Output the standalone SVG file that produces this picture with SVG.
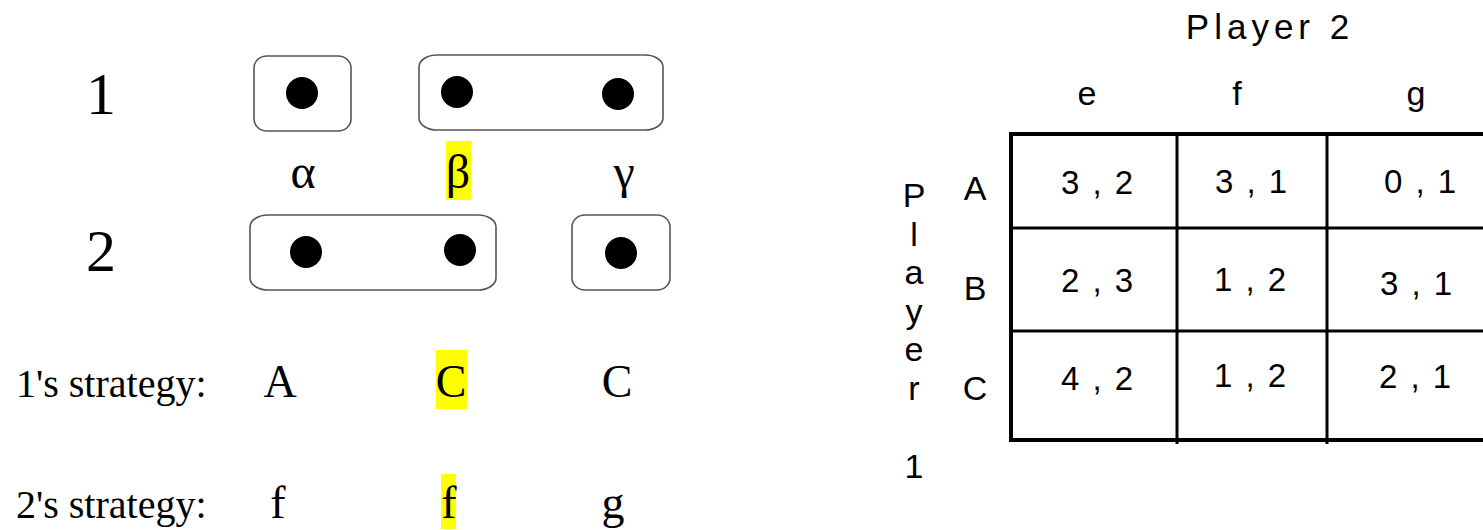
<svg xmlns="http://www.w3.org/2000/svg" width="1483" height="530" viewBox="0 0 1483 530">
<style>
.serif{font-family:"Liberation Serif","Times New Roman",serif;fill:#000}
.sans{font-family:"Liberation Sans",Arial,sans-serif;fill:#000}
.box{fill:none;stroke:#555;stroke-width:1.6}
.dot{fill:#000}
.hl{fill:#ffff00}
.thick{stroke:#000;stroke-width:4;fill:none}
.thin{stroke:#000;stroke-width:3;fill:none}
.cell{font-size:33px;letter-spacing:2px;text-anchor:middle}
.lab{font-size:34px;text-anchor:middle}
</style>
<rect width="1483" height="530" fill="#fff"/>
<g id="player-labels">
<text class="serif" x="86" y="114" font-size="60">1</text>
<text class="serif" x="86" y="271" font-size="60">2</text>
</g>
<g id="info-set-1a">
<rect class="box" x="254" y="56" width="97" height="75" rx="13" ry="12"/>
<circle class="dot" cx="302" cy="93" r="16"/>
</g>
<g id="info-set-1b">
<rect class="box" x="419" y="55" width="244" height="75" rx="18" ry="12"/>
<circle class="dot" cx="457" cy="92" r="16"/>
<circle class="dot" cx="618" cy="94" r="16"/>
</g>
<g id="info-set-2a">
<rect class="box" x="250" y="215" width="246" height="75" rx="18" ry="12"/>
<circle class="dot" cx="306" cy="252" r="16"/>
<circle class="dot" cx="460" cy="250" r="16"/>
</g>
<g id="info-set-2b">
<rect class="box" x="572" y="215" width="98" height="75" rx="13" ry="12"/>
<circle class="dot" cx="621" cy="253" r="16"/>
</g>
<g id="states">
<rect class="hl" x="446" y="141" width="25" height="59"/>
<text class="serif" x="303" y="188" font-size="48" text-anchor="middle">α</text>
<text class="serif" x="458" y="188" font-size="48" text-anchor="middle">β</text>
<text class="serif" x="624" y="188" font-size="48" text-anchor="middle">γ</text>
</g>
<g id="strategies">
<rect class="hl" x="436" y="350" width="31" height="59"/>
<rect class="hl" x="441" y="474" width="15" height="55"/>
<text class="serif" x="16" y="397" font-size="40">1's strategy:</text>
<text class="serif" x="280" y="397" font-size="46" text-anchor="middle">A</text>
<text class="serif" x="451" y="397" font-size="46" text-anchor="middle">C</text>
<text class="serif" x="617" y="397" font-size="46" text-anchor="middle">C</text>
<text class="serif" x="16" y="518" font-size="40">2's strategy:</text>
<text class="serif" x="278" y="518" font-size="46" text-anchor="middle">f</text>
<text class="serif" x="449" y="518" font-size="46" text-anchor="middle">f</text>
<text class="serif" x="613" y="518" font-size="46" text-anchor="middle">g</text>
</g>
<g id="payoff-matrix">
<text class="sans" x="1270" y="39" font-size="35" letter-spacing="5" text-anchor="middle">Player 2</text>
<g class="sans lab">
<text x="1087" y="105">e</text>
<text x="1237" y="105">f</text>
<text x="1416" y="105">g</text>
<text x="914" y="207">P</text>
<text x="914" y="246">l</text>
<text x="914" y="284">a</text>
<text x="914" y="323">y</text>
<text x="914" y="361">e</text>
<text x="914" y="400">r</text>
<text x="914" y="478">1</text>
<text x="975" y="200">A</text>
<text x="975" y="300">B</text>
<text x="975" y="400">C</text>
</g>
<g id="grid">
<line class="thick" x1="1011" y1="132" x2="1011" y2="442"/>
<line class="thick" x1="1009" y1="134" x2="1483" y2="134"/>
<line class="thick" x1="1009" y1="440" x2="1483" y2="440"/>
<line class="thin" x1="1011" y1="228" x2="1483" y2="228"/>
<line class="thin" x1="1011" y1="331" x2="1483" y2="331"/>
<line class="thin" x1="1177" y1="134" x2="1177" y2="444"/>
<line class="thin" x1="1327" y1="134" x2="1327" y2="444"/>
</g>
<g class="sans cell">
<text x="1098" y="194">3 , 2</text>
<text x="1252" y="193">3 , 1</text>
<text x="1421" y="193">0 , 1</text>
<text x="1098" y="292">2 , 3</text>
<text x="1251" y="291">1 , 2</text>
<text x="1417" y="295">3 , 1</text>
<text x="1098" y="390">4 , 2</text>
<text x="1251" y="387">1 , 2</text>
<text x="1416" y="388">2 , 1</text>
</g>
</g>
</svg>
